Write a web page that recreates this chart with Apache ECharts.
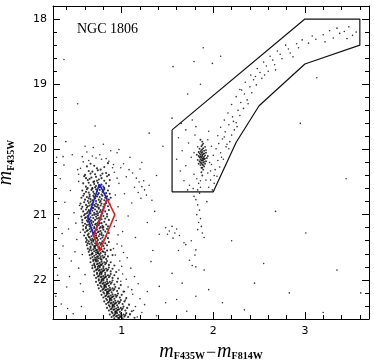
<!DOCTYPE html>
<html>
<head>
<meta charset="UTF-8">
<title>NGC 1806 CMD</title>
<script src="https://cdn.jsdelivr.net/npm/echarts@6/dist/echarts.min.js"></script>
<style>
  html, body { margin: 0; padding: 0; background: #fff; }
  #main { width: 374px; height: 360px; }
</style>
</head>
<body>
<div id="main"></div>
<script>
// ---- data: [colour F435W-F814W, magnitude F435W] ----
var msStars = [
 [0.66,20.22],[0.81,20.27],[0.73,20.29],[0.62,20.26],[0.85,20.21],[0.70,20.25],
 [0.64,20.33],[0.77,20.31],[0.71,20.38],[0.83,20.36],[0.60,20.39],[0.68,20.34],[0.79,20.37],[0.74,20.32],[0.86,20.39],[0.66,20.37],
 [0.59,20.41],[0.63,20.47],[0.67,20.43],[0.70,20.49],[0.72,20.42],[0.75,20.46],[0.78,20.44],[0.81,20.48],[0.84,20.41],[0.65,20.45],[0.73,20.48],[0.77,20.40],[0.61,20.44],[0.87,20.47],
 [0.58,20.52],[0.61,20.57],[0.64,20.51],[0.66,20.55],[0.68,20.59],[0.70,20.53],[0.72,20.56],[0.74,20.51],[0.76,20.58],[0.78,20.54],[0.80,20.57],[0.83,20.52],[0.86,20.56],[0.63,20.59],[0.69,20.50],[0.75,20.55],[0.81,20.59],[0.71,20.58],
 [0.57,20.63],[0.59,20.68],[0.62,20.61],[0.64,20.66],[0.65,20.69],[0.67,20.62],[0.69,20.65],[0.70,20.68],[0.72,20.61],[0.73,20.64],[0.75,20.67],[0.76,20.62],[0.78,20.69],[0.79,20.65],[0.81,20.61],[0.83,20.67],[0.85,20.63],[0.87,20.68],[0.61,20.65],[0.68,20.60],[0.74,20.69],[0.80,20.63],
 [0.56,20.74],[0.58,20.71],[0.60,20.77],[0.62,20.73],[0.63,20.79],[0.65,20.72],[0.66,20.76],[0.68,20.78],[0.69,20.71],[0.71,20.75],[0.72,20.79],[0.73,20.72],[0.75,20.77],[0.76,20.73],[0.78,20.76],[0.79,20.71],[0.81,20.78],[0.82,20.74],[0.84,20.72],[0.86,20.77],[0.64,20.75],[0.70,20.73],[0.77,20.79],[0.88,20.74],
 [0.55,20.83],[0.57,20.88],[0.59,20.81],[0.61,20.85],[0.62,20.89],[0.64,20.82],[0.65,20.86],[0.67,20.84],[0.68,20.89],[0.69,20.81],[0.71,20.87],[0.72,20.83],[0.73,20.88],[0.74,20.85],[0.76,20.81],[0.77,20.86],[0.78,20.83],[0.80,20.88],[0.81,20.84],[0.83,20.82],[0.85,20.87],[0.87,20.84],[0.63,20.87],[0.66,20.80],[0.70,20.85],[0.75,20.89],
 [0.56,20.91],[0.58,20.95],[0.60,20.99],[0.61,20.92],[0.63,20.96],[0.64,20.93],[0.66,20.98],[0.67,20.91],[0.68,20.94],[0.70,20.97],[0.71,20.92],[0.72,20.99],[0.73,20.95],[0.75,20.91],[0.76,20.96],[0.77,20.93],[0.79,20.98],[0.80,20.92],[0.82,20.95],[0.84,20.99],[0.86,20.93],[0.65,20.95],[0.69,20.90],[0.74,20.98],[0.78,20.96],[0.62,20.98],
 [0.56,21.03],[0.57,21.08],[0.59,21.01],[0.60,21.05],[0.62,21.09],[0.63,21.02],[0.64,21.06],[0.66,21.04],[0.67,21.09],[0.68,21.01],[0.69,21.05],[0.71,21.08],[0.72,21.03],[0.73,21.06],[0.74,21.01],[0.76,21.09],[0.77,21.04],[0.78,21.07],[0.80,21.02],[0.82,21.06],[0.84,21.03],[0.86,21.08],[0.65,21.07],[0.70,21.00],[0.75,21.05],[0.61,21.04],
 [0.57,21.12],[0.58,21.17],[0.60,21.14],[0.61,21.19],[0.63,21.11],[0.64,21.15],[0.65,21.18],[0.67,21.13],[0.68,21.16],[0.69,21.11],[0.70,21.19],[0.72,21.14],[0.73,21.17],[0.74,21.12],[0.75,21.16],[0.77,21.19],[0.78,21.13],[0.79,21.17],[0.81,21.11],[0.83,21.15],[0.85,21.18],[0.62,21.16],[0.66,21.10],[0.71,21.15],[0.76,21.13],[0.80,21.19],
 [0.58,21.23],[0.60,21.27],[0.61,21.21],[0.62,21.25],[0.64,21.29],[0.65,21.22],[0.66,21.26],[0.68,21.24],[0.69,21.28],[0.70,21.21],[0.71,21.25],[0.72,21.29],[0.73,21.23],[0.74,21.27],[0.76,21.21],[0.77,21.25],[0.78,21.28],[0.80,21.23],[0.82,21.26],[0.84,21.22],[0.86,21.28],[0.63,21.24],[0.67,21.20],[0.75,21.26],[0.79,21.20],[0.70,21.27],
 [0.59,21.32],[0.61,21.36],[0.62,21.39],[0.63,21.31],[0.65,21.35],[0.66,21.38],[0.67,21.33],[0.68,21.37],[0.69,21.31],[0.70,21.34],[0.71,21.38],[0.72,21.32],[0.73,21.36],[0.74,21.39],[0.75,21.33],[0.77,21.37],[0.78,21.31],[0.79,21.35],[0.81,21.38],[0.83,21.33],[0.85,21.36],[0.64,21.34],[0.69,21.39],[0.72,21.35],[0.76,21.30],[0.80,21.32],
 [0.61,21.42],[0.62,21.47],[0.64,21.41],[0.65,21.45],[0.66,21.49],[0.67,21.43],[0.68,21.46],[0.69,21.41],[0.70,21.48],[0.71,21.44],[0.72,21.47],[0.73,21.42],[0.74,21.45],[0.75,21.49],[0.76,21.43],[0.77,21.46],[0.79,21.41],[0.80,21.48],[0.82,21.44],[0.84,21.47],[0.63,21.44],[0.67,21.40],[0.71,21.49],[0.73,21.46],[0.78,21.44],[0.86,21.42],
 [0.63,21.52],[0.64,21.57],[0.66,21.51],[0.67,21.55],[0.68,21.59],[0.69,21.53],[0.70,21.56],[0.71,21.52],[0.72,21.58],[0.73,21.54],[0.74,21.57],[0.75,21.51],[0.76,21.55],[0.77,21.59],[0.78,21.53],[0.79,21.56],[0.81,21.52],[0.82,21.58],[0.84,21.55],[0.65,21.54],[0.70,21.50],[0.72,21.55],[0.74,21.59],[0.76,21.52],[0.80,21.57],[0.88,21.54],
 [0.65,21.62],[0.66,21.67],[0.67,21.61],[0.68,21.65],[0.69,21.69],[0.70,21.63],[0.71,21.66],[0.72,21.61],[0.73,21.68],[0.74,21.64],[0.75,21.67],[0.76,21.62],[0.77,21.65],[0.78,21.69],[0.79,21.63],[0.80,21.66],[0.82,21.61],[0.83,21.68],[0.85,21.64],[0.68,21.60],[0.71,21.69],[0.73,21.65],[0.75,21.60],[0.77,21.68],[0.81,21.65],[0.90,21.62],
 [0.66,21.73],[0.68,21.78],[0.69,21.71],[0.70,21.75],[0.71,21.79],[0.72,21.72],[0.73,21.76],[0.74,21.71],[0.75,21.78],[0.76,21.74],[0.77,21.77],[0.78,21.72],[0.79,21.75],[0.80,21.79],[0.81,21.73],[0.82,21.76],[0.84,21.71],[0.86,21.77],[0.72,21.70],[0.74,21.75],[0.76,21.79],[0.78,21.77],[0.70,21.77],[0.83,21.74],[0.88,21.73],[0.92,21.78],
 [0.68,21.82],[0.70,21.87],[0.71,21.81],[0.72,21.85],[0.73,21.89],[0.74,21.83],[0.75,21.86],[0.76,21.81],[0.77,21.88],[0.78,21.84],[0.79,21.87],[0.80,21.82],[0.81,21.85],[0.82,21.89],[0.83,21.83],[0.84,21.86],[0.86,21.81],[0.88,21.87],[0.74,21.80],[0.76,21.85],[0.78,21.89],[0.80,21.86],[0.73,21.84],[0.85,21.84],[0.90,21.83],[0.94,21.88],
 [0.70,21.93],[0.72,21.97],[0.73,21.91],[0.74,21.95],[0.75,21.99],[0.76,21.92],[0.77,21.96],[0.78,21.91],[0.79,21.98],[0.80,21.94],[0.81,21.97],[0.82,21.92],[0.83,21.95],[0.84,21.99],[0.85,21.93],[0.86,21.96],[0.88,21.91],[0.90,21.97],[0.76,21.90],[0.78,21.95],[0.80,21.99],[0.82,21.96],[0.75,21.94],[0.87,21.94],[0.92,21.93],[0.96,21.98],
 [0.72,22.03],[0.74,22.08],[0.75,22.01],[0.76,22.05],[0.77,22.09],[0.78,22.02],[0.79,22.06],[0.80,22.01],[0.81,22.08],[0.82,22.04],[0.83,22.07],[0.84,22.02],[0.85,22.05],[0.86,22.09],[0.87,22.03],[0.88,22.06],[0.90,22.01],[0.92,22.07],[0.78,22.00],[0.80,22.05],[0.82,22.09],[0.84,22.06],[0.77,22.04],[0.89,22.04],[0.95,22.03],[0.99,22.08],
 [0.75,22.13],[0.77,22.17],[0.78,22.11],[0.79,22.15],[0.80,22.19],[0.81,22.12],[0.82,22.16],[0.83,22.11],[0.84,22.18],[0.85,22.14],[0.86,22.17],[0.87,22.12],[0.88,22.15],[0.89,22.19],[0.90,22.13],[0.91,22.16],[0.93,22.11],[0.95,22.17],[0.81,22.10],[0.83,22.15],[0.85,22.19],[0.87,22.16],[0.80,22.14],[0.92,22.14],[0.97,22.13],[1.02,22.18],
 [0.78,22.23],[0.80,22.27],[0.81,22.21],[0.82,22.25],[0.83,22.29],[0.84,22.22],[0.85,22.26],[0.86,22.21],[0.87,22.28],[0.88,22.24],[0.89,22.27],[0.90,22.22],[0.91,22.25],[0.92,22.29],[0.93,22.23],[0.94,22.26],[0.96,22.21],[0.98,22.27],[0.84,22.20],[0.86,22.25],[0.88,22.29],[0.90,22.26],[0.83,22.24],[0.95,22.24],[1.00,22.23],[1.05,22.28],
 [0.81,22.33],[0.83,22.37],[0.84,22.31],[0.85,22.35],[0.86,22.39],[0.87,22.32],[0.88,22.36],[0.89,22.31],[0.90,22.38],[0.91,22.34],[0.92,22.37],[0.93,22.32],[0.94,22.35],[0.95,22.39],[0.96,22.33],[0.97,22.36],[0.99,22.31],[1.01,22.37],[0.87,22.30],[0.89,22.35],[0.91,22.39],[0.93,22.36],[0.86,22.34],[0.98,22.34],[1.03,22.33],[1.08,22.38],
 [0.84,22.43],[0.86,22.47],[0.87,22.41],[0.88,22.45],[0.89,22.49],[0.90,22.42],[0.91,22.46],[0.92,22.41],[0.93,22.48],[0.94,22.44],[0.95,22.47],[0.96,22.42],[0.97,22.45],[0.98,22.49],[0.99,22.43],[1.00,22.46],[1.02,22.41],[1.04,22.47],[0.90,22.40],[0.92,22.45],[0.94,22.49],[0.96,22.46],[0.89,22.44],[1.01,22.44],[1.06,22.43],[1.11,22.48],
 [0.87,22.53],[0.89,22.57],[0.90,22.51],[0.91,22.55],[0.92,22.59],[0.93,22.52],[0.94,22.56],[0.95,22.51],[0.96,22.58],[0.97,22.54],[0.98,22.57],[0.99,22.52],[1.00,22.55],[1.01,22.59],[1.02,22.53],[1.03,22.56],[1.05,22.51],[1.07,22.57],[0.93,22.50],[0.95,22.55],[0.97,22.59],[0.99,22.56],[0.92,22.54],[1.04,22.54],[1.09,22.53],[1.14,22.58]
];
// loose stars above the turn-off
var msTop = [
 [0.64,20.17],[0.72,20.13],[0.58,20.19],[0.83,20.14],[0.91,20.23],[0.55,20.29],[0.92,20.35],[0.76,20.08],[0.62,20.04],[0.88,20.02],
 [0.53,20.38],[0.95,20.44],[0.69,19.97],[0.80,19.92],[0.57,20.11],[0.90,20.28]
];
var msBinaries = [
 [0.95,21.45],[1.02,21.58],[0.98,21.71],[1.06,21.66],[1.10,21.82],[1.01,21.91],[1.14,21.95],[0.99,22.02],[1.07,22.11],[1.18,22.06],
 [1.12,22.22],[1.04,22.31],[1.20,22.29],[1.15,22.41],[1.09,22.52],[1.22,22.50],[1.17,22.57],[0.93,21.62],[1.00,21.79],[1.05,21.99],
 [0.97,21.85],[1.11,22.15],[1.03,22.18],[1.25,22.38],[1.13,22.47],[0.91,21.52],[0.96,21.31],[0.92,21.18],[1.01,21.26],[0.94,21.09]
];
var fieldLeft = [
 [0.29,20.12],[0.33,20.45],[0.38,20.81],[0.31,21.06],[0.42,21.22],[0.36,21.48],[0.45,21.71],[0.30,21.93],[0.40,22.11],[0.34,22.37],
 [0.47,22.52],[0.51,21.38],[0.48,20.97],[0.53,21.82],[0.44,20.63],[0.37,20.24],[0.52,20.31],[0.49,21.57],[0.55,22.06],[0.41,22.44],
 [0.32,21.67],[0.46,20.08],[0.39,19.88],[0.54,20.86],[0.50,21.13],[0.28,22.25],[0.35,21.29],[0.43,21.95],[0.56,22.41],[0.53,20.49],
 [0.58,22.18],[0.60,21.92],[0.57,21.61],[0.55,21.27]
];
var fieldUpper = [
 [0.37,18.62],[0.60,19.95],[0.36,20.11],[0.97,20.00],[1.30,19.75],[1.56,18.73],[1.79,18.65],[1.99,18.68],[1.89,18.44],[1.86,19.00],
 [1.72,19.15],[1.55,19.52],[0.78,20.15],[0.86,20.18],[0.68,20.10],[1.45,19.95],[1.22,20.20],[0.71,19.64],[2.08,18.57],[3.13,18.90],
 [0.52,19.30]
];
var fieldMid = [
 [0.95,20.05],[1.02,20.22],[1.08,20.31],[1.12,20.36],[1.16,20.44],[1.19,20.50],[1.22,20.57],[1.25,20.62],[1.27,20.70],[1.21,20.75],
 [1.18,20.66],[1.24,20.48],[1.30,20.55],[1.14,20.58],[1.05,20.42],[0.99,20.28],[1.33,20.78],[1.11,20.82],[1.36,20.95],[1.03,20.68],
 [0.97,20.52],[0.93,20.70],[1.07,21.02],[1.28,21.12],[1.41,21.30],[1.15,21.35],[0.96,20.88],[1.20,20.30],[1.09,20.12],[1.38,20.40],
 [1.00,21.48],[1.34,21.55]
];
var sgbStars = [
 [1.48,21.20],[1.52,21.25],[1.55,21.18],[1.58,21.28],[1.60,21.22],[1.63,21.32],[1.50,21.30],[1.56,21.36],[1.68,21.43],[1.70,21.46],
 [1.81,20.77],[1.83,20.85],[1.85,20.93],[1.82,21.00],[1.86,21.06],[1.84,21.12],[1.87,21.18],[1.83,21.23],[1.88,21.28],[1.85,20.67],
 [1.81,21.54],[1.80,21.62],[1.81,21.80],[1.74,21.70],[1.77,21.78],[1.90,21.85],[1.81,22.25],[1.41,22.10],[1.32,21.72],[1.79,20.72],
 [1.90,21.35],[1.76,21.40],[1.93,20.80],[1.62,21.55],[1.55,21.90],[1.48,22.35],[1.66,22.05],[1.95,22.15],[1.71,22.48],[1.38,22.55],
 [1.28,22.18],[1.60,22.30]
];
var fieldRight = [
 [3.61,22.20],[2.83,22.20],[2.34,22.46],[3.01,21.28],[2.55,21.75],[2.20,21.40],[3.35,21.85],[2.68,20.95],[3.45,20.45],[2.45,22.05],
 [2.10,22.35],[3.20,22.50],[2.95,19.60]
];
var clumpStars = [
 [1.88,20.10],[1.87,20.05],[1.89,20.13],[1.86,20.08],[1.90,20.02],[1.88,20.17],[1.87,20.21],[1.89,19.98],[1.85,20.12],[1.91,20.09],
 [1.88,20.04],[1.86,20.15],[1.90,20.19],[1.87,19.95],[1.89,20.24],[1.88,20.00],[1.85,20.06],[1.91,20.14],[1.86,20.20],[1.89,20.07],
 [1.87,20.12],[1.90,20.26],[1.88,19.93],[1.84,20.10],[1.92,20.05],[1.88,20.28],[1.86,20.03],[1.90,20.11],[1.87,20.17],[1.89,20.16],
 [1.85,19.99],[1.91,20.22],[1.88,20.08],[1.86,20.24],[1.93,20.13],[1.83,20.16],[1.88,19.88],[1.89,20.31],[1.87,20.35],[1.91,19.96],
 [1.84,20.04],[1.92,20.18],[1.88,20.14],[1.87,20.01],[1.90,20.06],[1.86,20.11],[1.89,20.20],[1.88,20.23],[1.85,20.18],[1.90,20.15],
 [1.82,20.08],[1.94,20.10],[1.87,20.28],[1.89,19.91],[1.88,20.40],[1.86,19.85],[1.84,20.22],[1.92,20.01]
];
var clumpHalo = [
 [1.62,19.82],[1.66,20.02],[1.70,20.25],[1.73,19.90],[1.76,20.12],[1.79,20.38],[1.68,20.48],[1.74,20.55],[1.80,19.78],[1.83,19.96],
 [1.94,19.85],[1.97,20.33],[1.95,19.72],[1.78,20.60],[1.82,20.45],[1.84,20.52],[1.86,20.58],[1.64,20.33],[1.72,20.62],[1.60,20.15],
 [1.81,19.65],[1.77,19.55],[1.92,20.47],[1.70,19.70],[1.98,19.95],[1.83,20.62],[1.86,20.48],[1.79,20.05],[1.96,20.20],[1.65,19.60]
];
var rgbStars = [
 [1.95,20.58],[2.01,20.52],[1.97,20.47],[2.04,20.41],[1.94,20.36],[2.02,20.31],[2.07,20.27],[1.98,20.23],[2.05,20.17],[2.11,20.15],
 [2.00,20.09],[2.08,20.05],[2.03,19.99],[2.14,19.96],[2.06,19.91],[2.18,19.88],[2.10,19.84],[2.05,19.79],[2.20,19.78],[2.13,19.73],
 [2.23,19.70],[2.08,19.66],[2.17,19.62],[2.25,19.59],[2.12,19.55],[2.21,19.50],[2.29,19.48],[2.16,19.44],[2.27,19.40],[2.33,19.37],
 [2.20,19.31],[2.30,19.28],[2.37,19.24],[2.25,19.19],[2.34,19.15],[2.42,19.13],[2.29,19.08],[2.40,19.04],[2.47,19.01],[2.35,18.97],
 [2.44,18.93],[2.53,18.91],[2.41,18.86],[2.51,18.82],[2.60,18.80],[2.48,18.76],[2.58,18.72],[2.67,18.70],[2.55,18.66],[2.65,18.63],
 [2.75,18.61],[2.62,18.57],[2.73,18.54],[2.84,18.52],[2.70,18.49],[2.82,18.46],[2.93,18.44],[2.79,18.40],[2.91,18.38],[3.04,18.37],
 [2.97,18.32],[3.12,18.31],[3.22,18.35],[3.08,18.26],[3.20,18.24],[3.31,18.29],[3.27,18.18],[3.38,18.22],[3.46,18.30],[3.35,18.14],
 [3.43,18.19],[3.52,18.25],[3.48,18.12],[3.56,18.20],[2.15,19.92],[2.09,20.12],[2.22,19.57],[2.38,19.30],[2.46,18.88],[2.56,18.86],
 [2.01,20.40],[2.12,19.81],[2.31,19.09],[2.68,18.78],[2.87,18.58],[2.26,19.65],[1.99,20.62],[2.17,19.99]
];

// selection boxes
var boxRGB = [[1.55,19.70],[3.00,18.00],[3.60,18.00],[3.60,18.40],[3.00,18.69],[2.50,19.33],[2.25,19.89],[2.00,20.65],[1.55,20.65],[1.55,19.70]];
var boxBlue = [[0.757,20.53],[0.84,20.76],[0.695,21.32],[0.63,21.05],[0.757,20.53]];
var boxRed = [[0.84,20.76],[0.925,21.00],[0.76,21.56],[0.695,21.32],[0.84,20.76]];

// ticks
var xMajor = [1, 2, 3];
var xMinor = [0.4, 0.6, 0.8, 1.2, 1.4, 1.6, 1.8, 2.2, 2.4, 2.6, 2.8, 3.2, 3.4, 3.6];
var yMajor = [18, 19, 20, 21, 22];
var yMinor = [18.2, 18.4, 18.6, 18.8, 19.2, 19.4, 19.6, 19.8, 20.2, 20.4, 20.6, 20.8, 21.2, 21.4, 21.6, 21.8, 22.2, 22.4];

var X_MIN = 0.25, X_MAX = 3.7, Y_MIN = 17.8, Y_MAX = 22.6;

var chart = echarts.init(document.getElementById('main'), null, { renderer: 'canvas' });

var titleRich = {
    m: { fontFamily: 'Liberation Serif', fontStyle: 'italic', fontSize: 20, color: '#000', verticalAlign: 'bottom' },
    s: { fontFamily: 'Liberation Serif', fontWeight: 'bold', fontSize: 10, lineHeight: 10, color: '#000', verticalAlign: 'bottom' },
    d: { fontFamily: 'Liberation Serif', fontSize: 18, color: '#000', verticalAlign: 'bottom', padding: [0, 1, 0, 1] }
};

function xAxisOf(pos, ticks, len, isMain) {
    return {
        type: 'value', position: pos, min: X_MIN, max: X_MAX,
        axisLine: { show: isMain, onZero: false, lineStyle: { color: '#000', width: 1 } },
        axisTick: { show: true, inside: true, length: len, customValues: ticks, lineStyle: { color: '#000', width: 1 } },
        axisLabel: { show: isMain && pos === 'bottom', customValues: xMajor, margin: 7,
            fontFamily: 'DejaVu Sans', fontSize: 11, color: '#000' },
        splitLine: { show: false }
    };
}
function yAxisOf(pos, ticks, len, isMain) {
    return {
        type: 'value', position: pos, min: Y_MIN, max: Y_MAX, inverse: true,
        axisLine: { show: isMain, onZero: false, lineStyle: { color: '#000', width: 1 } },
        axisTick: { show: true, inside: true, length: len, customValues: ticks, lineStyle: { color: '#000', width: 1 } },
        axisLabel: { show: isMain && pos === 'left', customValues: yMajor, margin: 6,
            fontFamily: 'DejaVu Sans', fontSize: 11, color: '#000' },
        splitLine: { show: false }
    };
}

var xAxes = [xAxisOf('bottom', xMajor, 7, true), xAxisOf('bottom', xMinor, 4, false),
             xAxisOf('top', xMajor, 7, true), xAxisOf('top', xMinor, 4, false)];
xAxes[0].name = '{m|m}{s|F435W}{d|\u2212}{m|m}{s|F814W}';
xAxes[0].nameLocation = 'middle';
xAxes[0].nameGap = 20;
xAxes[0].nameTextStyle = { rich: titleRich };

var yAxes = [yAxisOf('left', yMajor, 7, true), yAxisOf('left', yMinor, 4, false),
             yAxisOf('right', yMajor, 7, true), yAxisOf('right', yMinor, 4, false)];
yAxes[0].name = '{m|m}{s|F435W}';
yAxes[0].nameLocation = 'middle';
yAxes[0].nameRotate = 90;
yAxes[0].nameGap = 37;
yAxes[0].nameTextStyle = { rich: titleRich };

function starSeries(data, size) {
    return {
        type: 'scatter', data: data, symbol: 'circle', symbolSize: size || 1.6,
        itemStyle: { color: '#000' }, silent: true
    };
}
function boxSeries(data, color, width) {
    return {
        type: 'line', data: data, symbol: 'none', silent: true, z: 5,
        lineStyle: { color: color, width: width }
    };
}

var option = {
    animation: false,
    backgroundColor: '#fff',
    grid: { left: 53, top: 6, right: 5, bottom: 41, containLabel: false, outerBoundsMode: 'none' },
    xAxis: xAxes,
    yAxis: yAxes,
    graphic: [{
        type: 'text', left: 77, top: 22,
        style: { text: 'NGC 1806', fontFamily: 'Liberation Serif', fontSize: 14, fill: '#000' }
    }],
    series: [
        starSeries(msStars, 2.1),
        starSeries(msTop),
        starSeries(msBinaries),
        starSeries(fieldLeft),
        starSeries(fieldUpper),
        starSeries(fieldMid),
        starSeries(sgbStars),
        starSeries(fieldRight),
        starSeries(clumpStars, 1.9),
        starSeries(clumpHalo),
        starSeries(rgbStars),
        boxSeries(boxRGB, '#111', 1.2),
        boxSeries(boxBlue, '#1a1ad6', 1.6),
        boxSeries(boxRed, '#e02020', 1.6)
    ]
};
chart.setOption(option);
</script>
</body>
</html>
